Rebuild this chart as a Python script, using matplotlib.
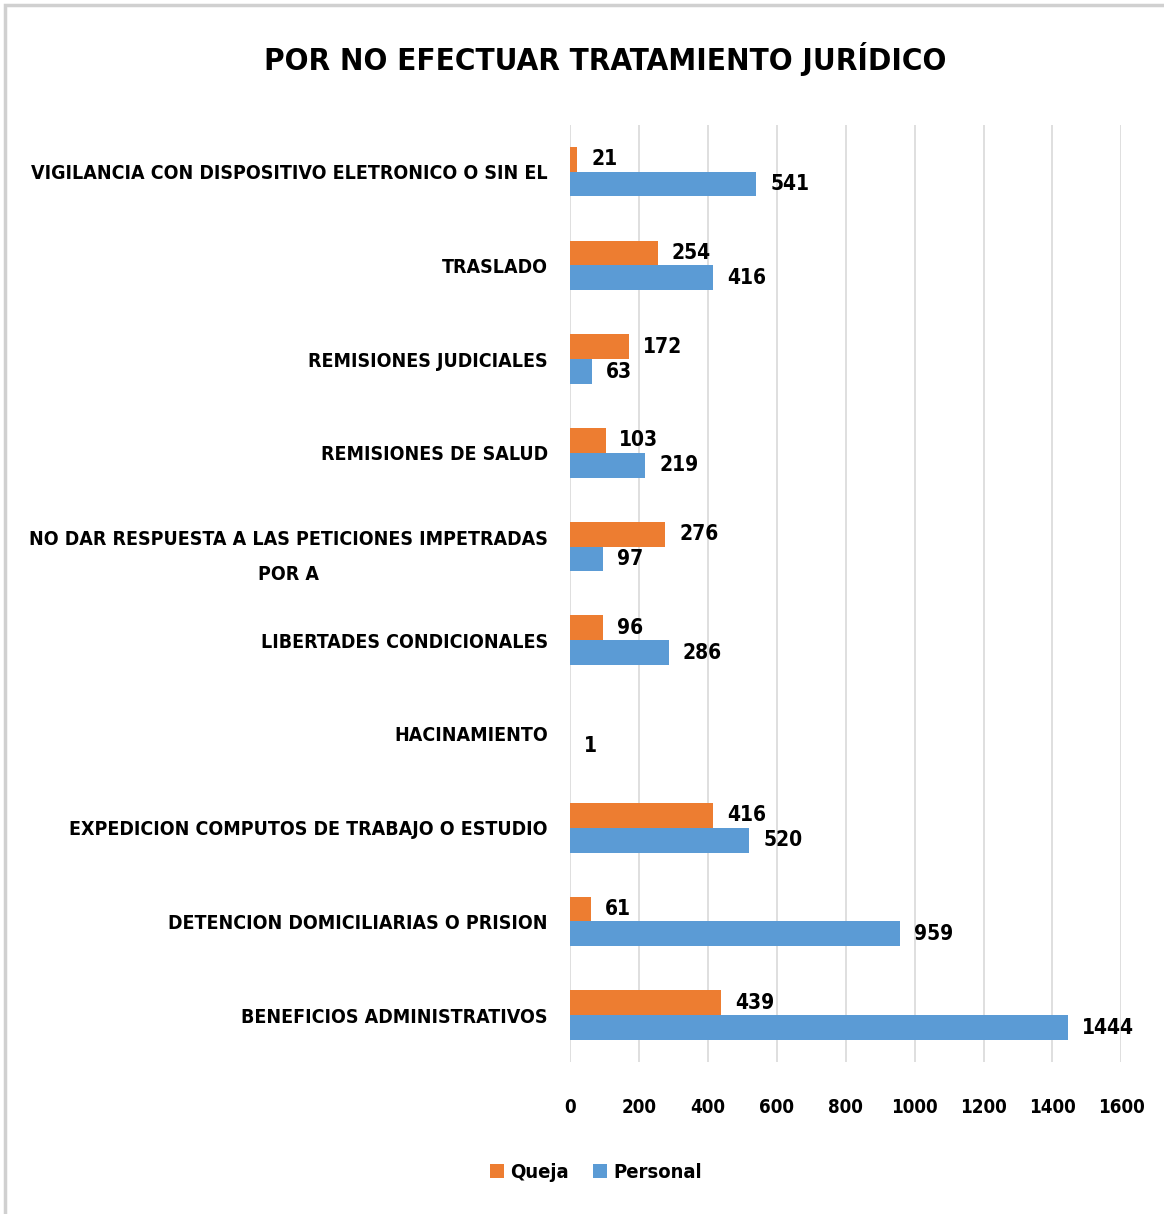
import numpy as np
import matplotlib.pyplot as plt
from matplotlib.patches import Rectangle

categorias = ['VIGILANCIA CON DISPOSITIVO ELETRONICO O SIN EL', 'TRASLADO',
              'REMISIONES JUDICIALES', 'REMISIONES DE SALUD',
              'NO DAR RESPUESTA A LAS PETICIONES IMPETRADAS\nPOR A',
              'LIBERTADES CONDICIONALES', 'HACINAMIENTO',
              'EXPEDICION COMPUTOS DE TRABAJO O ESTUDIO',
              'DETENCION DOMICILIARIAS O PRISION', 'BENEFICIOS ADMINISTRATIVOS']
queja = [21, 254, 172, 103, 276, 96, np.nan, 416, 61, 439]
personal = [541, 416, 63, 219, 97, 286, 1, 520, 959, 1444]

plt.rcParams['font.family'] = ['DejaVu Sans']
plt.rcParams['font.stretch'] = 'condensed'
plt.rcParams['font.weight'] = 'bold'

fig = plt.figure(figsize=(11.64, 12.14), dpi=100)
ax = fig.add_axes([0.4897, 0.1252, 0.4737, 0.772])

# borde gris de la imagen
fig.patches.append(Rectangle((0.004, -0.01), 1.0, 1.006, transform=fig.transFigure,
                             fill=False, edgecolor='#d0d0d0', linewidth=2.5))

y = np.arange(len(categorias))
h = 0.265
b1 = ax.barh(y - h / 2, queja, height=h, color='#ED7D31', label='Queja')
b2 = ax.barh(y + h / 2, personal, height=h, color='#5B9BD5', label='Personal')

for bars, vals in ((b1, queja), (b2, personal)):
    for rect, v in zip(bars, vals):
        if np.isnan(v):
            continue
        ax.annotate(f'{int(v)}', (rect.get_width(), rect.get_y() + rect.get_height() / 2),
                    xytext=(10, 0), textcoords='offset points', va='center', ha='left',
                    fontsize=15, fontweight='bold')

ax.set_xlim(0, 1600)
ax.set_ylim(len(categorias) - 0.5, -0.5)
ax.set_xticks(range(0, 1601, 200))
ax.set_yticks(y)
ax.set_yticklabels(categorias, fontsize=14, fontweight='bold', linespacing=2.1,
                   multialignment='center')
ax.tick_params(axis='x', labelsize=13.5, length=0, pad=26)
ax.tick_params(axis='y', length=0, pad=16)
for lbl in ax.get_xticklabels():
    lbl.set_fontweight('bold')
ax.grid(axis='x', color='#d9d9d9', linewidth=1.2)
ax.set_axisbelow(True)
for s in ax.spines.values():
    s.set_visible(False)

fig.text(0.52, 0.951, 'POR NO EFECTUAR TRATAMIENTO JURÍDICO', ha='center', va='center',
         fontsize=22.5, fontweight='bold')

fig.legend(handles=[b1, b2], loc='center', bbox_to_anchor=(0.512, 0.034), ncol=2,
           frameon=False, fontsize=14.5, handlelength=0.7, handleheight=0.7,
           handletextpad=0.3, columnspacing=1.2)

plt.savefig('out.png', dpi=100)
